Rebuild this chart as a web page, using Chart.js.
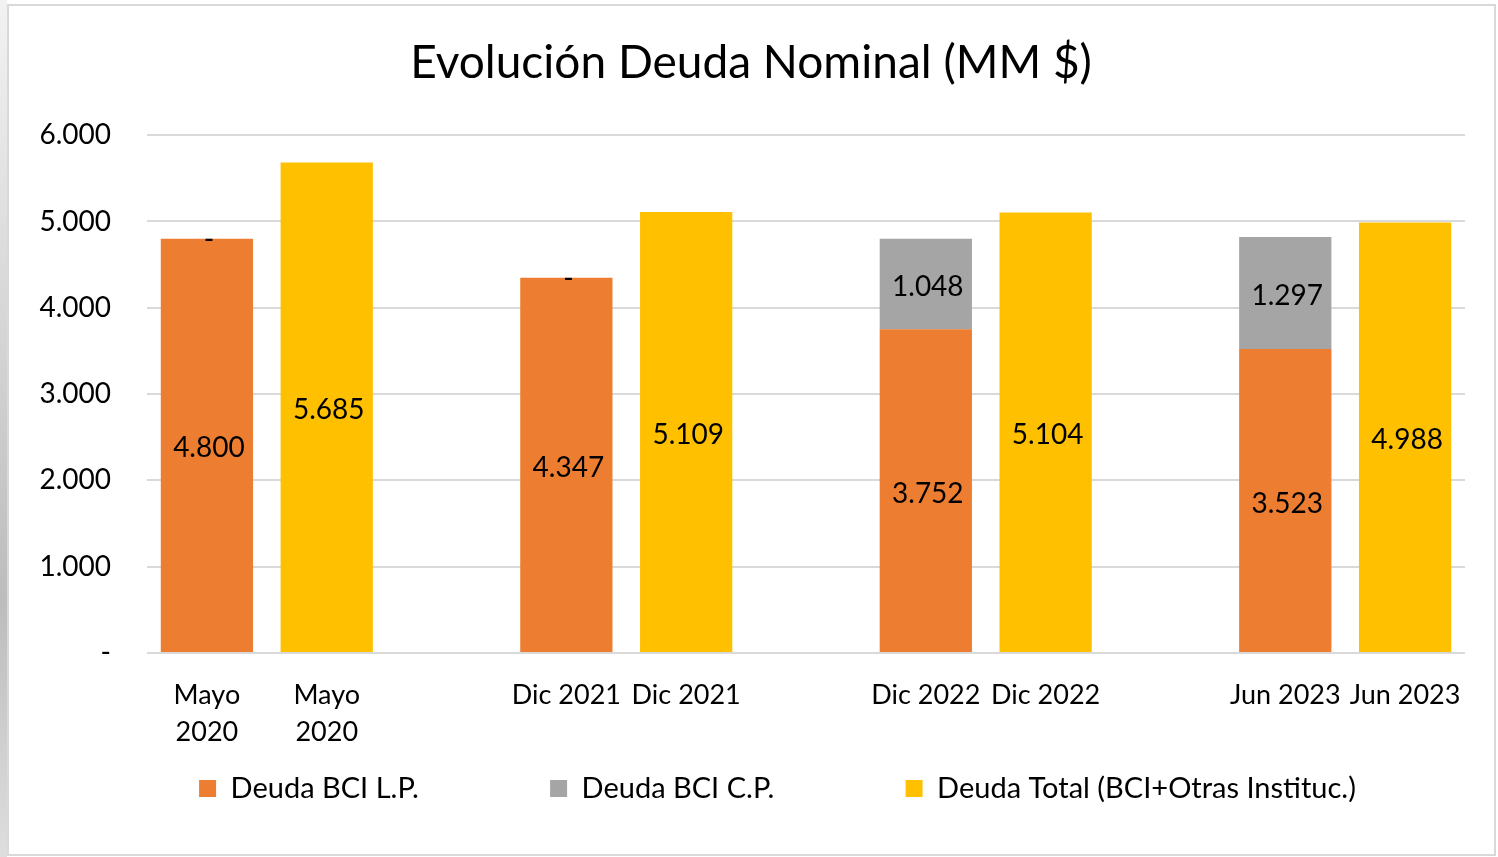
<!DOCTYPE html>
<html>
<head>
<meta charset="utf-8">
<script src="https://cdn.jsdelivr.net/npm/chart.js@4.4.1/dist/chart.umd.min.js"></script>
<style>
  html, body { margin: 0; padding: 0; background: #fff; }
  #wrap { position: relative; width: 1498px; height: 857px; overflow: hidden; }
  #strip { position: absolute; left: 0; top: 0; width: 7px; height: 857px;
           background: linear-gradient(#f2f2f2, #d4d4d4 40%, #bcbcbc 70%, #dedede); }
  #frame { position: absolute; left: 7px; top: 4px; width: 1485px; height: 848px;
           border: 2px solid #d9d9d9; pointer-events: none; }
  canvas { position: absolute; left: 0; top: 0; }
</style>
</head>
<body>
<div id="wrap">
  <div id="strip"></div>
  <canvas id="graficoDeuda" width="1498" height="857"></canvas>
  <div id="frame"></div>
</div>
<script>
// Datos del gráfico (MM $)
const categorias = [['Mayo', '2020'], ['Mayo', '2020'], '', 'Dic 2021', 'Dic 2021', '', 'Dic 2022', 'Dic 2022', '', 'Jun 2023', 'Jun 2023'];
const deudaLP = [4800, null, null, 4347, null, null, 3752, null, null, 3523, null];
const deudaCP = [0, null, null, 0, null, null, 1048, null, null, 1297, null];
const deudaTotal = [null, 5685, null, null, 5109, null, null, 5104, null, null, 4988];
const ejeY = { min: 0, max: 6000, paso: 1000 };

function formatear(v) {
    if (v === 0) return '-';
    return v.toString().replace(/\B(?=(\d{3})+(?!\d))/g, '.');
}

// Etiquetas de valores dentro de las barras
const etiquetas = {
    id: 'etiquetas',
    afterDatasetsDraw(chart) {
        const ctx = chart.ctx;
        ctx.save();
        ctx.font = '28px Lato';
        ctx.fillStyle = '#000';
        ctx.textAlign = 'center';
        ctx.textBaseline = 'middle';
        chart.data.datasets.forEach((ds, i) => {
            chart.getDatasetMeta(i).data.forEach((barra, j) => {
                const v = ds.data[j];
                if (v === null || v === undefined) return;
                const y = v === 0 ? barra.y + 1 : (barra.y + barra.base) / 2 + 3;
                ctx.fillText(formatear(v), barra.x + 2, y);
            });
        });
        ctx.restore();
    }
};

document.fonts.load('28px Lato').then(function() {
    Chart.defaults.font.family = 'Lato';
    Chart.defaults.color = '#000';

    new Chart(document.getElementById('graficoDeuda'), {
        type: 'bar',
        data: {
            labels: categorias,
            datasets: [{
                label: 'Deuda BCI L.P.',
                data: deudaLP,
                backgroundColor: '#ED7D31'
            }, {
                label: 'Deuda BCI C.P.',
                data: deudaCP,
                backgroundColor: '#A5A5A5'
            }, {
                label: 'Deuda Total (BCI+Otras Instituc.)',
                data: deudaTotal,
                backgroundColor: '#FFC000'
            }]
        },
        options: {
            responsive: false,
            animation: false,
            events: [],
            barPercentage: 0.77,
            categoryPercentage: 1,
            layout: { padding: { left: 37, right: 33, top: 0, bottom: 44 } },
            plugins: {
                title: {
                    display: true,
                    text: 'Evolución Deuda Nominal (MM $)',
                    color: '#000',
                    font: { size: 46, weight: 'normal' },
                    padding: { top: 36, bottom: 44 }
                },
                legend: {
                    position: 'bottom',
                    align: 'end',
                    labels: {
                        boxWidth: 17,
                        boxHeight: 17,
                        padding: 20,
                        color: '#000',
                        font: { size: 29 },
                        generateLabels(chart) {
                            const items = Chart.defaults.plugins.legend.labels.generateLabels(chart);
                            items.forEach((it, i) => {
                                it.lineWidth = 0;
                                it.text += ' '.repeat(i === 0 ? 15 : (i === 1 ? 15 : 12));
                            });
                            return items;
                        }
                    }
                },
                tooltip: { enabled: false }
            },
            scales: {
                x: {
                    stacked: true,
                    grid: { display: false },
                    border: { display: false },
                    ticks: {
                        autoSkip: false,
                        maxRotation: 0,
                        minRotation: 0,
                        padding: 15,
                        color: '#000',
                        font: { size: 27, lineHeight: 1.4 }
                    },
                    afterFit(scale) { scale.height = 101; }
                },
                y: {
                    stacked: true,
                    min: ejeY.min,
                    max: ejeY.max,
                    grid: { color: '#D9D9D9', lineWidth: 2, drawTicks: false },
                    border: { display: false },
                    ticks: {
                        stepSize: ejeY.paso,
                        padding: 36,
                        color: '#000',
                        font: { size: 28 },
                        callback: function(v) { return formatear(v); }
                    },
                    afterFit(scale) { scale.width = 110; }
                }
            }
        },
        plugins: [etiquetas]
    });
});
</script>
</body>
</html>
